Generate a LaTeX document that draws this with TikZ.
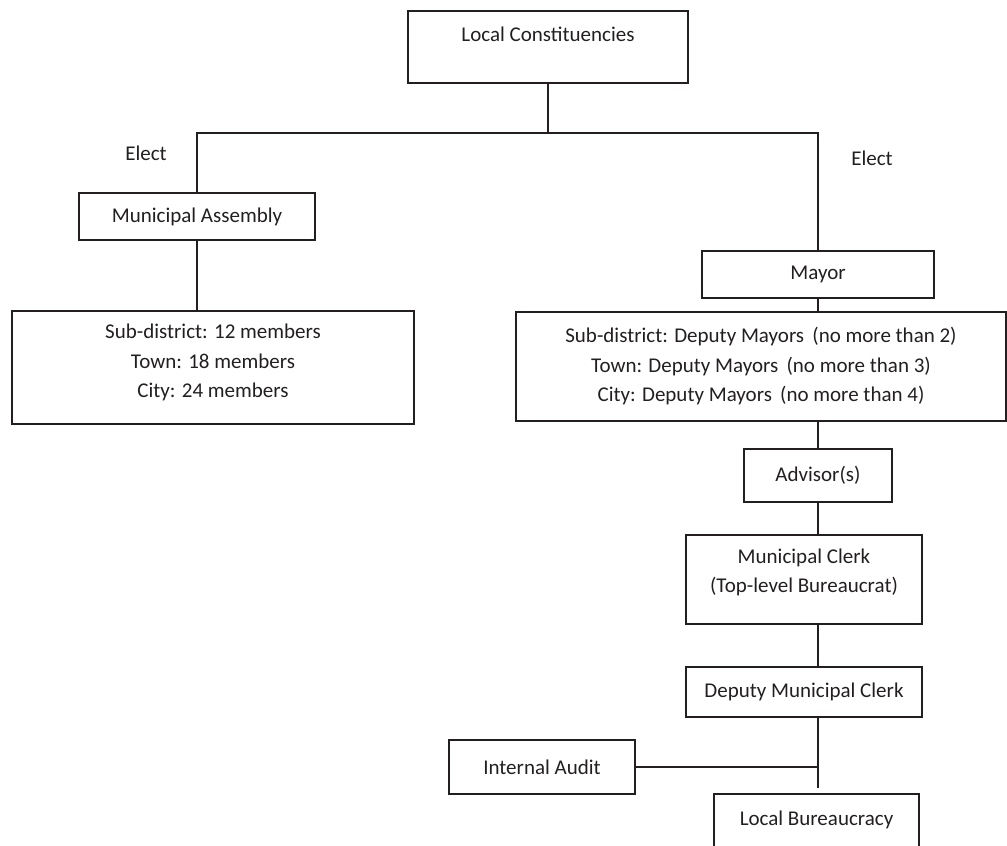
\documentclass[tikz,border=0pt]{standalone}
\usepackage{fontspec}
\setmainfont{Carlito}
\usetikzlibrary{positioning}
\definecolor{ink}{RGB}{35,31,32}

\begin{document}
\begin{tikzpicture}[x=0.5pt,y=-0.5pt,line width=0.75pt,color=ink,
	font=\fontsize{10.5}{14.75}\selectfont]
	\tikzset{box/.style={draw,rectangle,align=center,inner sep=0pt}}
	\useasboundingbox (0,0) rectangle (1007,846);
	\clip (0,0) rectangle (1007,846);

	\node[box, minimum width=140pt, minimum height=36pt, text height=8pt, text depth=14pt] (lc) at (548,47) {Local Constituencies};
	\coordinate (split) at (548,133);

	% left branch
	\node (elect-l) at (146,153) {Elect};
	\node[box, minimum width=118pt, minimum height=23.5pt] (assembly) at (197,216.5) {Municipal Assembly};
	\node[box, minimum width=201pt, minimum height=56.5pt,
		label={[align=center, yshift=2.5pt]center:Sub-district: 12 members\\Town: 18 members\\City: 24 members}] (members) at (213,367.5) {};

	% right branch
	\node (elect-r) at (872,158) {Elect};
	\node[box, minimum width=116pt, minimum height=23.5pt] (mayor) at (818,274.5) {Mayor};
	\node[box, minimum width=245pt, minimum height=54.5pt] (deputies) at (761,366.5)
		{Sub-district: Deputy Mayors\ \,(no more than 2)\\Town: Deputy Mayors\ \,(no more than 3)\\City: Deputy Mayors\ \,(no more than 4)};
	\node[box, minimum width=74pt, minimum height=26.5pt] (advisor) at (818,475.5) {Advisor(s)};
	\node[box, minimum width=118pt, minimum height=44.5pt,
		label={[align=center, yshift=3.5pt]center:Municipal Clerk\\(Top-level Bureaucrat)}] (clerk) at (804,579.5) {};
	\node[box, minimum width=118pt, minimum height=25pt] (deputyclerk) at (804,692) {Deputy Municipal Clerk};
	\node[box, minimum width=93pt, minimum height=27pt] (audit) at (542,767) {Internal Audit};
	\node[box, minimum width=102.5pt, minimum height=53pt, text height=8pt, text depth=30pt] (bureaucracy) at (816.5,847) {Local Bureaucracy};
	\coordinate (spine-end) at (818,788);

	\draw (lc) -- (split);
	\draw (assembly) |- (split) -| (mayor);
	\draw (assembly) -- (assembly |- members.north);
	\draw (mayor) -- (mayor |- deputies.north);
	\draw (mayor |- deputies.south) -- (advisor);
	\draw (advisor) -- (advisor |- clerk.north);
	\draw (advisor |- clerk.south) -- (advisor |- deputyclerk.north);
	\draw (advisor |- deputyclerk.south) -- (spine-end);
	\draw (audit) -- (audit -| spine-end);
\end{tikzpicture}
\end{document}
